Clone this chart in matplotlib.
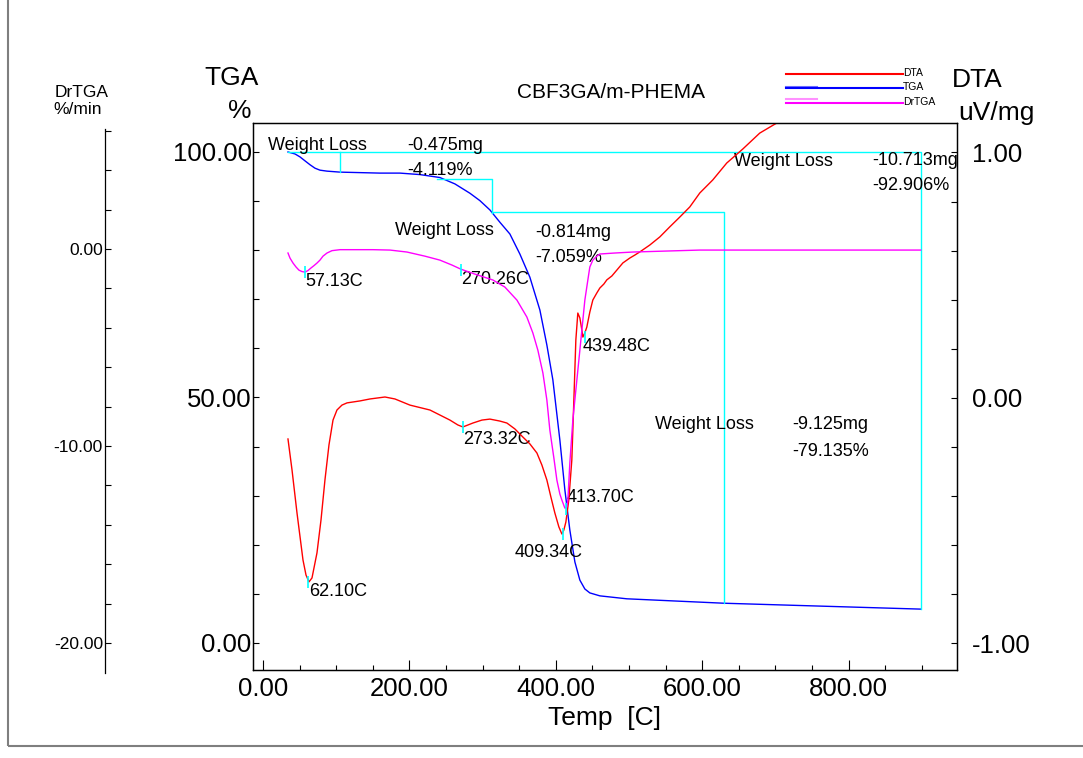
import matplotlib
matplotlib.use('Agg')
import matplotlib.pyplot as plt
from matplotlib.ticker import MultipleLocator, FormatStrFormatter
from matplotlib.patches import Rectangle
from matplotlib.lines import Line2D

plt.rcParams['font.family'] = ['Liberation Sans', 'DejaVu Sans']

# TGA curve (Temp C, %)
tga_temp = [34.1, 43.7, 50.5, 57.3, 64.2, 71.0, 77.8, 87.4, 105.1, 132.4, 159.7, 187.0,
            214.3, 241.6, 262.1, 282.6, 296.2, 309.9, 323.5, 337.2, 350.9, 364.5, 378.2,
            387.7, 395.9, 405.5, 412.3, 419.1, 426.0, 432.8, 439.6, 446.4, 460.1, 496.9,
            629.3, 898.3]
tga_val = [100.0, 99.6, 99.0, 98.2, 97.4, 96.7, 96.3, 96.1, 95.9, 95.8, 95.7, 95.7,
           95.4, 94.8, 93.5, 91.6, 90.1, 88.2, 85.7, 83.3, 79.2, 74.5, 67.8,
           60.7, 53.6, 41.3, 31.2, 23.0, 16.5, 12.8, 11.0, 10.2, 9.6, 9.0,
           8.1, 6.9]

# DTA curve (Temp C, uV/mg)
dta_temp = [34.1, 39.6, 46.4, 54.6, 58.7, 62.8, 66.9, 73.7, 79.2, 84.6, 90.1, 95.6,
            101.0, 107.8, 114.7, 132.4, 146.1, 166.6, 180.2, 200.7, 228.0, 255.3, 266.2,
            273.0, 279.9, 286.7, 299.0, 309.9, 323.5, 333.1, 344.0, 354.9, 364.5, 374.1,
            380.9, 387.7, 393.2, 398.6, 404.1, 408.2, 410.9, 413.7, 417.7, 421.8, 424.6,
            427.3, 430.0, 432.8, 435.5, 436.9, 439.6, 442.3, 446.4, 450.5, 456.0, 460.1,
            465.5, 469.6, 476.5, 483.3, 491.5, 501.0, 507.8, 514.7, 528.3, 542.0, 555.6,
            569.3, 582.9, 596.6, 614.3, 633.4, 655.3, 678.5, 701.7, 719.5]
dta_val = [-0.167, -0.293, -0.468, -0.660, -0.721, -0.749, -0.733, -0.631, -0.497, -0.334, -0.191, -0.090,
           -0.049, -0.029, -0.020, -0.012, -0.004, 0.004, -0.004, -0.029, -0.049, -0.090, -0.110,
           -0.118, -0.110, -0.102, -0.090, -0.086, -0.094, -0.102, -0.126, -0.159, -0.187, -0.224,
           -0.273, -0.334, -0.403, -0.468, -0.525, -0.554, -0.538, -0.505, -0.415, -0.253, -0.008,
           0.236, 0.346, 0.326, 0.277, 0.248, 0.265, 0.289, 0.350, 0.399, 0.428, 0.448,
           0.464, 0.481, 0.497, 0.521, 0.550, 0.570, 0.582, 0.595, 0.623, 0.656, 0.697,
           0.737, 0.778, 0.835, 0.888, 0.957, 1.014, 1.079, 1.120, 1.165]

# DrTGA curve (Temp C, %/min)
dr_temp = [34.1, 36.9, 41.0, 45.1, 49.1, 53.2, 57.3, 61.4, 65.5, 69.6, 73.7, 77.8,
           81.9, 87.4, 94.2, 105.1, 150.2, 173.4, 196.6, 221.2, 241.6, 258.0, 270.3,
           289.4, 314.0, 330.4, 346.8, 360.4, 368.6, 375.4, 382.3, 387.7, 391.8, 397.3,
           401.4, 405.5, 408.2, 412.3, 415.0, 416.4, 419.1, 423.2, 427.3, 432.8, 436.9,
           439.6, 443.7, 446.4, 450.5, 456.0, 460.1, 480.5, 505.1, 596.6, 898.3]
dr_val = [-0.20, -0.46, -0.71, -0.91, -1.07, -1.14, -1.17, -1.09, -0.96, -0.84, -0.71, -0.56,
          -0.36, -0.20, -0.08, -0.03, -0.03, -0.05, -0.15, -0.36, -0.56, -0.81, -1.02,
          -1.27, -1.57, -1.93, -2.59, -3.45, -4.26, -5.13, -6.29, -7.66, -9.19, -10.61,
          -11.73, -12.44, -12.74, -13.15, -13.10, -12.74, -10.86, -8.68, -7.16, -5.13, -3.60,
          -2.59, -1.57, -0.91, -0.56, -0.36, -0.25, -0.20, -0.15, -0.05, -0.05]

# peak marks
dta_peak_t = [62.10, 273.32, 409.34, 439.48]
dta_peak_v = [-0.75, -0.118, -0.554, 0.248]
dr_peak_t = [57.13, 270.26, 413.70]
dr_peak_v = [-1.17, -1.07, -13.2]

# weight loss step lines (Temp, %)
wl_lines = [
    ([34.1, 898.3, 898.3], [100.0, 100.0, 6.9]),
    ([105.1, 105.1], [100.0, 95.9]),
    ([237.5, 312.6, 312.6], [94.6, 94.6, 87.6]),
    ([312.6, 629.3, 629.3], [87.8, 87.8, 8.2]),
]

fig = plt.figure(figsize=(10.83, 7.58), dpi=100)
ax = fig.add_axes([0.2336, 0.1161, 0.6501, 0.7216])
ax_dta = ax.twinx()
ax_dr = ax.twinx()

# frame round the picture
fig.add_artist(Rectangle((8 / 1083, 12 / 758), 1.0, 0.99, transform=fig.transFigure,
                         fill=False, edgecolor='#7f7f7f', lw=1.5))

ax.set_xlim(-13.7, 948)
ax.set_ylim(-5.5, 105.9)
ax_dta.set_ylim(-1.108, 1.120)
ax_dr.set_ylim(-21.37, 6.40)

# curves
ax.plot(tga_temp, tga_val, color='#0000ff', lw=1.0)
ax_dta.plot(dta_temp, dta_val, color='#ff0000', lw=1.0)
ax_dr.plot(dr_temp, dr_val, color='#ff00ff', lw=1.0)

for xs, ys in wl_lines:
    ax.plot(xs, ys, color='#00ffff', lw=1.0)

ax_dta.plot(dta_peak_t, dta_peak_v, ls='none', marker='|', ms=8, mew=1.2, color='#00ffff')
ax_dr.plot(dr_peak_t, dr_peak_v, ls='none', marker='|', ms=8, mew=1.2, color='#00ffff')

# annotations
fs = 13
notes = [
    (6.8, 101.4, 'Weight Loss'), (196.6, 101.4, '-0.475mg'), (196.6, 96.3, '-4.119%'),
    (180.2, 84.1, 'Weight Loss'), (371.3, 83.7, '-0.814mg'), (371.3, 78.6, '-7.059%'),
    (643.0, 98.0, 'Weight Loss'), (832.8, 98.2, '-10.713mg'), (832.8, 93.1, '-92.906%'),
    (535.2, 44.4, 'Weight Loss'), (723.5, 44.4, '-9.125mg'), (723.5, 39.1, '-79.135%'),
    (57.3, 73.7, '57.13C'), (270.3, 74.1, '270.26C'), (436.9, 60.3, '439.48C'),
    (62.8, 10.4, '62.10C'), (273.0, 41.5, '273.32C'), (415.0, 29.7, '413.70C'),
    (344.0, 18.5, '409.34C'),
]
for x, y, s in notes:
    ax.text(x, y, s, fontsize=fs, ha='left', va='center', clip_on=True)

# ticks
tick_fs = 18.5
ax.xaxis.set_major_locator(MultipleLocator(200))
ax.xaxis.set_minor_locator(MultipleLocator(50))
ax.xaxis.set_major_formatter(FormatStrFormatter('%.2f'))
ax.yaxis.set_major_locator(MultipleLocator(50))
ax.yaxis.set_minor_locator(MultipleLocator(10))
ax.yaxis.set_major_formatter(FormatStrFormatter('%.2f'))
ax.tick_params(axis='x', which='major', direction='in', length=7, width=0.8, labelsize=tick_fs, pad=5)
ax.tick_params(axis='x', which='minor', direction='in', length=3.5, width=0.8)
ax.tick_params(axis='y', which='both', direction='in', length=4, width=0.8, labelsize=tick_fs, pad=1)

ax_dta.yaxis.set_major_locator(MultipleLocator(1))
ax_dta.yaxis.set_minor_locator(MultipleLocator(0.2))
ax_dta.yaxis.set_major_formatter(FormatStrFormatter('%.2f'))
ax_dta.tick_params(axis='y', which='both', direction='in', length=4, width=0.8, labelsize=tick_fs, pad=11)

ax_dr.yaxis.set_ticks_position('left')
ax_dr.yaxis.set_label_position('left')
ax_dr.spines['left'].set_position(('axes', -0.2102))
ax_dr.spines['left'].set_visible(True)
ax_dr.spines['left'].set_bounds(-21.5, 6.1)
for side in ['right', 'top', 'bottom']:
    ax_dr.spines[side].set_visible(False)
ax_dr.yaxis.set_major_locator(MultipleLocator(10))
ax_dr.yaxis.set_minor_locator(MultipleLocator(2))
ax_dr.yaxis.set_major_formatter(FormatStrFormatter('%.2f'))
ax_dr.tick_params(axis='y', which='both', direction='in', length=4, width=0.8, labelsize=12.5, pad=1.5)

for a in [ax, ax_dta, ax_dr]:
    for sp in a.spines.values():
        sp.set_linewidth(0.9)

# axis titles
fig.text(232 / 1083, 1 - 78 / 758, 'TGA', fontsize=19, ha='center', va='center')
fig.text(240 / 1083, 1 - 111 / 758, '%', fontsize=19, ha='center', va='center')
fig.text(977 / 1083, 1 - 80 / 758, 'DTA', fontsize=19, ha='center', va='center')
fig.text(996 / 1083, 1 - 113 / 758, 'uV/mg', fontsize=19, ha='center', va='center')
fig.text(82 / 1083, 1 - 92.5 / 758, 'DrTGA', fontsize=12.5, ha='center', va='center')
fig.text(78 / 1083, 1 - 110 / 758, '%/min', fontsize=12.5, ha='center', va='center')
fig.text(611 / 1083, 1 - 92 / 758, 'CBF3GA/m-PHEMA', fontsize=15, ha='center', va='center')
fig.text(605 / 1083, 1 - 718 / 758, 'Temp  [C]', fontsize=19, ha='center', va='center')

# legend drawn by hand
leg = [('DTA', '#ff0000', 74), ('TGA', '#0000ff', 88), ('DrTGA', '#ff00ff', 102.7)]
fig.add_artist(Line2D([786 / 1083, 817 / 1083], [1 - 86.7 / 758] * 2, color='#7070ff', lw=1.5))
fig.add_artist(Line2D([786 / 1083, 817 / 1083], [1 - 99.3 / 758] * 2, color='#ff90ff', lw=1.5))
for name, c, y in leg:
    fig.add_artist(Line2D([786 / 1083, 903 / 1083], [1 - y / 758] * 2, color=c, lw=1.5))
    fig.text(903 / 1083, 1 - (y - 1) / 758, name, fontsize=7.5, ha='left', va='center')

fig.savefig('out.png', dpi=100)
